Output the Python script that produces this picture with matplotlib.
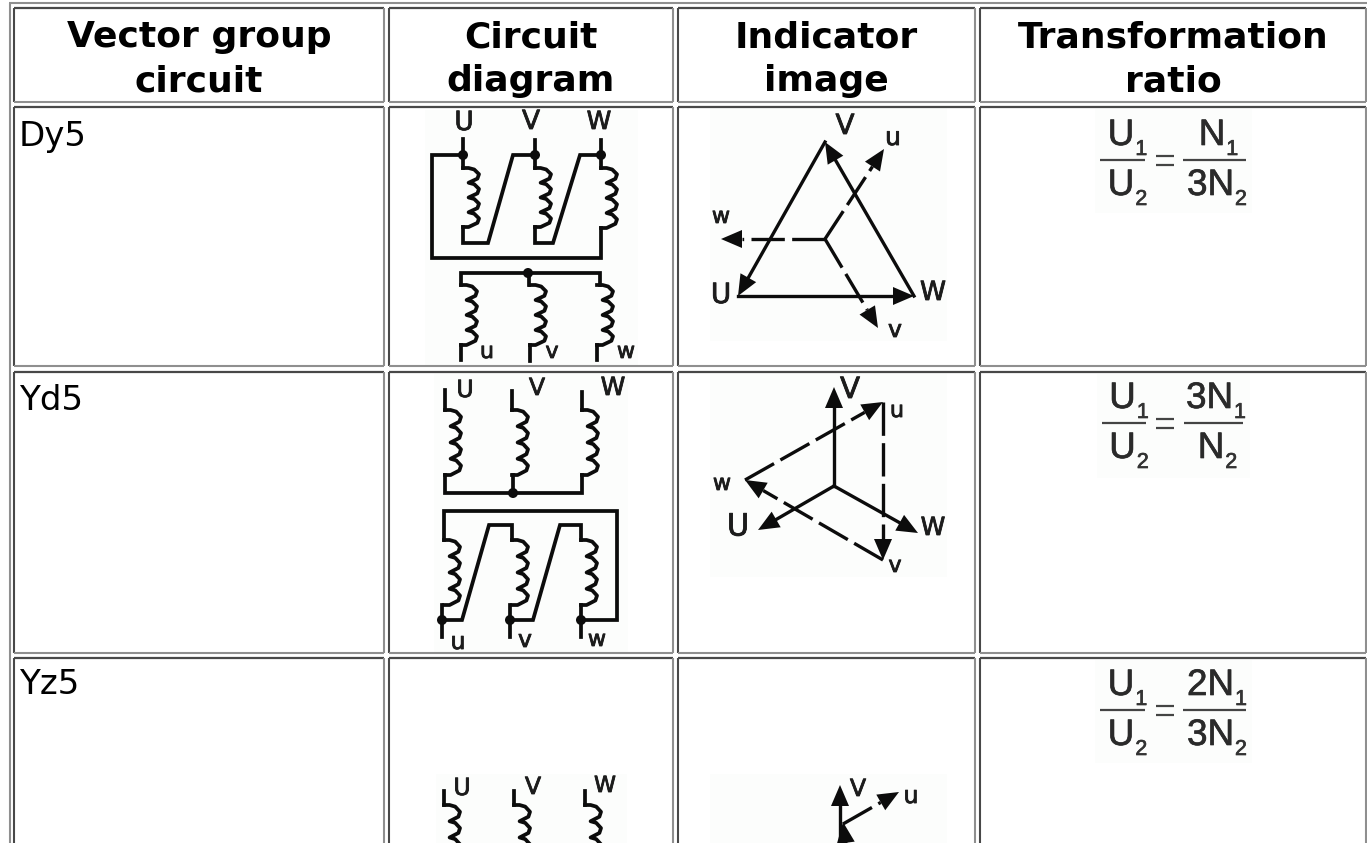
import math
import matplotlib
matplotlib.use("Agg")
import matplotlib.pyplot as plt
import matplotlib.patheffects as pe
from matplotlib.patches import Polygon, Rectangle, Circle

# ---- table content
HEADERS = [["Vector group", "circuit"], ["Circuit", "diagram"], ["Indicator", "image"], ["Transformation", "ratio"]]
ROW_LABELS = ["Dy5", "Yd5", "Yz5"]
RATIO_LEFT = [("U", "1"), ("U", "2")]
RATIO_RIGHT = [[("", "N", "1"), ("3", "N", "2")],
               [("3", "N", "1"), ("", "N", "2")],
               [("2", "N", "1"), ("3", "N", "2")]]

# ---- table layout (pixels)
COL_EDGES = [(14, 384), (389, 673), (678, 975), (980, 1366)]
ROW_EDGES = [(8, 102), (107, 366), (372, 653), (658, 860)]
HEADER_BASE = [47, 91]
LABEL_BASE = [146, 410, 694]
RATIO_BAR_Y = [160, 423, 710]
RATIO_BAR_X = [[(1100, 1145), (1183, 1246)], [(1102, 1146), (1184, 1243)], [(1100, 1145), (1183, 1246)]]
IMAGE_BG = [(425, 110, 638, 366), (710, 107, 947, 341), (434, 372, 628, 652), (710, 372, 947, 577),
            (436, 774, 627, 860), (710, 774, 947, 860), (1095, 109, 1252, 213), (1097, 374, 1250, 478),
            (1095, 660, 1252, 763)]

# ---- circuit diagrams: wires, coils (x, top, bottom), nodes, labels
WIRES = [
    [(463, 139), (463, 168)], [(463, 155), (432, 155), (432, 258), (601, 258), (601, 228)],
    [(463, 227), (463, 243), (488, 243), (513, 155), (535, 155)], [(535, 140), (535, 168)],
    [(535, 227), (535, 243), (553, 243), (580, 155), (601, 155)], [(601, 140), (601, 168)],
    [(461, 285), (461, 273), (600, 273), (600, 285)], [(529, 273), (529, 285)],
    [(461, 345), (461, 360)], [(530, 345), (530, 361)], [(597, 345), (597, 360)],
    [(445, 390), (445, 410)], [(445, 475), (445, 493), (582, 493), (582, 475)], [(512, 391), (512, 410)],
    [(513, 475), (513, 493)], [(582, 392), (582, 410)],
    [(444, 540), (444, 511), (617, 511), (617, 620), (582, 620)], [(442, 605), (442, 637)],
    [(442, 620), (462, 620), (489, 525), (512, 525), (512, 540)], [(510, 605), (510, 637)],
    [(510, 620), (533, 620), (560, 525), (581, 525), (581, 540)], [(581, 605), (581, 637)],
    [(444, 791), (444, 805)], [(514, 791), (514, 805)], [(585, 791), (585, 805)],
]
COILS = [(463, 168, 227), (535, 168, 227), (601, 168, 228), (461, 285, 345), (530, 285, 345), (597, 285, 345),
         (445, 410, 475), (512, 410, 475), (582, 410, 475), (444, 540, 605), (512, 540, 605), (581, 540, 605),
         (444, 805, 870), (514, 805, 870), (585, 805, 870)]
NODES = [(463, 155), (535, 155), (601, 155), (528, 273), (513, 493), (442, 620), (510, 620), (581, 620)]
COIL_BUMP = [(0.35, 0), (0.7, 0.10), (1.0, 0.42), (0.9, 0.72), (0.35, 1.0)]

# ---- indicator diagrams: solid + dashed arrows
SOLID_ARROWS = [((738, 296), (914, 296)), ((914, 296), (825, 142)), ((825, 142), (738, 296)),
                ((834, 486), (834, 387)), ((834, 486), (758, 530)), ((834, 486), (918, 533)),
                ((840, 860), (840, 785)), ((847, 852), (843, 822))]
DASHED_ARROWS = [((825, 239), (884, 149)), ((825, 239), (721, 239)), ((825, 239), (878, 328)),
                 ((745, 480), (883, 402)), ((883, 402), (883, 560)), ((883, 560), (745, 480)),
                 ((843, 824), (899, 792))]

# ---- hand-lettered labels: (text, x, y, size)
DIAGRAM_LABELS = [
    ("U", 464, 123, 19), ("V", 531, 122, 19), ("W", 599, 122, 18), ("u", 487, 352, 16), ("v", 552, 352, 16), ("w", 626, 352, 16),
    ("U", 465, 390, 17), ("V", 537, 388, 17), ("W", 613, 388, 18), ("u", 458, 642, 17), ("v", 525, 640, 17), ("w", 597, 640, 16),
    ("U", 462, 788, 17), ("V", 533, 787, 17), ("W", 605, 786, 16),
    ("V", 845, 126, 20), ("u", 893, 138, 18), ("w", 721, 217, 16), ("U", 721, 295, 20), ("W", 933, 293, 19), ("v", 895, 330, 17),
    ("V", 850, 390, 21), ("u", 897, 411, 16), ("w", 722, 484, 16), ("U", 738, 527, 22), ("W", 933, 528, 18), ("v", 895, 566, 16),
    ("V", 858, 789, 17), ("u", 911, 796, 17),
]

DARK = "#484848"
GRAY = "#8f8f8f"
INK = "#0c0c0c"

fig = plt.figure(figsize=(13.67, 8.43), dpi=100, facecolor="white")
ax = fig.add_axes([0, 0, 1, 1])
ax.set_xlim(0, 1367)
ax.set_ylim(843, 0)
ax.axis("off")

# image backgrounds
for x0, y0, x1, y1 in IMAGE_BG:
    ax.add_patch(Rectangle((x0, y0), x1 - x0, y1 - y0, fc="#fcfdfc", ec="none", zorder=0))

# outer table border
ax.plot([9.5, 9.5], [3, 860], color=GRAY, lw=1.5, zorder=1, solid_capstyle="butt")
ax.plot([9, 1367], [3, 3], color=GRAY, lw=1.5, zorder=1, solid_capstyle="butt")

# cell borders (inset)
for (x0, x1) in COL_EDGES:
    for (y0, y1) in ROW_EDGES:
        ax.plot([x0, x1], [y0, y0], color=DARK, lw=1.6, zorder=2, solid_capstyle="butt")
        ax.plot([x0, x0], [y0, y1], color=DARK, lw=1.5, zorder=2, solid_capstyle="butt")
        ax.plot([x1, x1], [y0, y1], color=GRAY, lw=1.5, zorder=2, solid_capstyle="butt")
        ax.plot([x0, x1], [y1, y1], color=GRAY, lw=1.5, zorder=2, solid_capstyle="butt")

# headers
for (x0, x1), lines in zip(COL_EDGES, HEADERS):
    for base, line in zip(HEADER_BASE, lines):
        ax.text((x0 + x1) / 2, base, line, ha="center", va="baseline", fontsize=26,
                fontweight="bold", family="DejaVu Sans", color="black")

# row labels
for base, label in zip(LABEL_BASE, ROW_LABELS):
    ax.text(19, base, label, ha="left", va="baseline", fontsize=24.5, family="DejaVu Sans", color="black")

# ratio formulas
HEAVY = [pe.withStroke(linewidth=0.5, foreground="#333333")]

def sub_text(xc, base, pre, main, sub):
    s = pre + main
    t = ax.text(xc, base, s, ha="center", va="baseline", fontsize=26.5, family="Liberation Sans",
                color="#2a2a2a", path_effects=HEAVY)
    bb = t.get_window_extent(fig.canvas.get_renderer())
    x_end = xc + bb.width / 2
    ax.text(x_end + 1, base + 10, sub, ha="left", va="baseline", fontsize=15.5,
            family="Liberation Sans", color="#333333", path_effects=HEAVY)

for bar_y, bars, right in zip(RATIO_BAR_Y, RATIO_BAR_X, RATIO_RIGHT):
    (a0, a1), (b0, b1) = bars
    for x0, x1 in bars:
        ax.plot([x0, x1], [bar_y, bar_y], color="#444444", lw=1.6, solid_capstyle="butt")
    for yy in (bar_y - 5 + 1, bar_y + 5):
        ax.plot([1156, 1174], [yy, yy], color="#444444", lw=1.6, solid_capstyle="butt")
    sub_text((a0 + a1) / 2 - 1.5, bar_y - 15, "", RATIO_LEFT[0][0], RATIO_LEFT[0][1])
    sub_text((a0 + a1) / 2 - 1.5, bar_y + 35, "", RATIO_LEFT[1][0], RATIO_LEFT[1][1])
    for (pre, main, sub), base in zip(right, (bar_y - 15, bar_y + 35)):
        sub_text((b0 + b1) / 2 - (4 if pre else 2.5), base, pre, main, sub)

# diagrams
LW = 2.7
for wire in WIRES:
    xs, ys = zip(*wire)
    ax.plot(xs, ys, color=INK, lw=LW, solid_joinstyle="miter", zorder=3)

def draw_coil(x, y0, y1, width=16, bumps=4):
    h = (y1 - y0) / bumps
    xs, ys = [x], [y0]
    for i in range(bumps):
        for fx, fy in COIL_BUMP:
            xs.append(x + fx * width)
            ys.append(y0 + (i + fy) * h)
    xs.append(x)
    ys.append(y1)
    ax.plot(xs, ys, color=INK, lw=LW, zorder=3)

for x, y0, y1 in COILS:
    draw_coil(x, y0, y1)

for x, y in NODES:
    ax.add_patch(Circle((x, y), 5, fc=INK, ec="none", zorder=4))

HEAD_LEN = 21
HEAD_HALF = 9

def arrow(p0, p1, dashed=False):
    (x0, y0), (x1, y1) = p0, p1
    d = math.hypot(x1 - x0, y1 - y0)
    ux, uy = (x1 - x0) / d, (y1 - y0) / d
    bx, by = x1 - ux * HEAD_LEN, y1 - uy * HEAD_LEN
    ls = (0, (10, 2.2)) if dashed else "-"
    ax.plot([x0, bx], [y0, by], color=INK, lw=2.4, linestyle=ls, dash_capstyle="butt", zorder=3)
    ax.add_patch(Polygon([(x1, y1), (bx - uy * HEAD_HALF, by + ux * HEAD_HALF), (bx + uy * HEAD_HALF, by - ux * HEAD_HALF)],
                         closed=True, fc=INK, ec="none", zorder=3))

for p0, p1 in SOLID_ARROWS:
    arrow(p0, p1)
for p0, p1 in DASHED_ARROWS:
    arrow(p0, p1, dashed=True)

for text, x, y, size in DIAGRAM_LABELS:
    ax.text(x, y, text, ha="center", va="center", fontsize=size, family="DejaVu Sans", color="#1c1c1c", zorder=5,
            path_effects=[pe.withStroke(linewidth=0.6, foreground="#1c1c1c")])

fig.savefig("out.png", dpi=100, facecolor="white")
